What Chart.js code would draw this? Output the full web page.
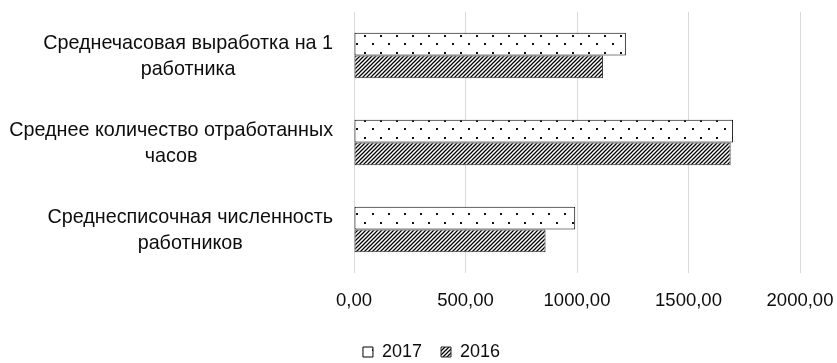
<!DOCTYPE html>
<html>
<head>
<meta charset="utf-8">
<script src="https://cdn.jsdelivr.net/npm/chart.js@4/dist/chart.umd.min.js"></script>
<style>
  html, body { margin: 0; padding: 0; background: #ffffff; }
  #wrap { width: 837px; height: 363px; position: relative; }
</style>
</head>
<body>
<div id="wrap"><canvas id="chart" width="837" height="363"></canvas></div>
<script>
// Category labels, one array of lines per category
const categories = [
  ["Среднечасовая выработка на 1", "работника"],
  ["Среднее количество отработанных", "часов"],
  ["Среднесписочная численность", "работников"]
];
const seriesNames = ["2017", "2016"];
const values2017 = [1219, 1700, 992];
const values2016 = [1117, 1689, 859];
const tickValues = [0, 500, 1000, 1500, 2000];

const FONT = "'Liberation Sans', Arial, sans-serif";
const TEXT = '#0d0d0d';

// Fill patterns: sparse dots and dense diagonal hatch
function dotPattern() {
  const c = document.createElement('canvas');
  c.width = 16; c.height = 17;
  const g = c.getContext('2d');
  g.fillStyle = '#ffffff';
  g.fillRect(0, 0, 16, 17);
  g.fillStyle = '#111111';
  g.fillRect(12, 1, 2, 2);
  g.fillRect(4, 9, 2, 2);
  return g.createPattern(c, 'repeat');
}
function hatchPattern() {
  const c = document.createElement('canvas');
  c.width = 4; c.height = 4;
  const g = c.getContext('2d');
  g.fillStyle = '#ffffff';
  g.fillRect(0, 0, 4, 4);
  g.strokeStyle = '#000000';
  g.lineWidth = 1.25;
  g.beginPath();
  g.moveTo(-1, 5); g.lineTo(5, -1);
  g.moveTo(-1, 1); g.lineTo(1, -1);
  g.moveTo(3, 5); g.lineTo(5, 3);
  g.stroke();
  return g.createPattern(c, 'repeat');
}

// Multi-line category labels: each block right-aligned to the axis, lines centred within the block
const categoryLabels = {
  id: 'categoryLabels',
  afterDraw(chart) {
    const ctx = chart.ctx;
    const yScale = chart.scales.y;
    const right = chart.chartArea.left - 21;
    const lineH = 26;
    ctx.save();
    ctx.font = '19.75px ' + FONT;
    ctx.fillStyle = TEXT;
    ctx.textAlign = 'center';
    ctx.textBaseline = 'middle';
    categories.forEach((lines, i) => {
      const yc = yScale.getPixelForValue(i) + 1;
      const w = Math.max(...lines.map(l => ctx.measureText(l).width));
      const xc = right - w / 2;
      const y0 = yc - (lines.length - 1) * lineH / 2;
      lines.forEach((l, k) => ctx.fillText(l, xc, y0 + k * lineH));
    });
    ctx.restore();
  }
};

const padLeft = 63;

new Chart(document.getElementById('chart'), {
  type: 'bar',
  data: {
    labels: categories,
    datasets: [
      {
        label: seriesNames[0],
        data: values2017,
        backgroundColor: dotPattern(),
        borderColor: '#000000',
        borderWidth: 1,
        borderSkipped: false
      },
      {
        label: seriesNames[1],
        data: values2016,
        backgroundColor: hatchPattern(),
        borderColor: '#2a2a2a',
        borderWidth: 1,
        borderSkipped: false
      }
    ]
  },
  options: {
    indexAxis: 'y',
    responsive: false,
    animation: false,
    devicePixelRatio: 1,
    layout: { padding: { top: 12, right: 37, bottom: -8, left: padLeft } },
    datasets: { bar: { categoryPercentage: 0.522, barPercentage: 1.0 } },
    scales: {
      x: {
        min: 0,
        max: 2000,
        afterBuildTicks(scale) { scale.ticks = tickValues.map(v => ({ value: v })); },
        afterFit(scale) {
          scale.height = 51;
          scale.paddingLeft = 0;
          scale.paddingRight = 0;
        },
        border: { display: false },
        grid: { color: '#d9d9d9', lineWidth: 1, drawTicks: false },
        ticks: {
          padding: 17,
          color: TEXT,
          font: { family: FONT, size: 18.5 },
          callback: v => v.toFixed(2).replace('.', ',')
        }
      },
      y: {
        afterFit(scale) { scale.width = 354 - padLeft; },
        border: { display: false },
        grid: { display: false },
        ticks: { display: false }
      }
    },
    plugins: {
      legend: {
        position: 'bottom',
        labels: {
          boxWidth: 10,
          boxHeight: 10,
          padding: 19,
          color: TEXT,
          font: { family: FONT, size: 18 }
        }
      },
      tooltip: { enabled: false }
    }
  },
  plugins: [categoryLabels]
});
</script>
</body>
</html>
